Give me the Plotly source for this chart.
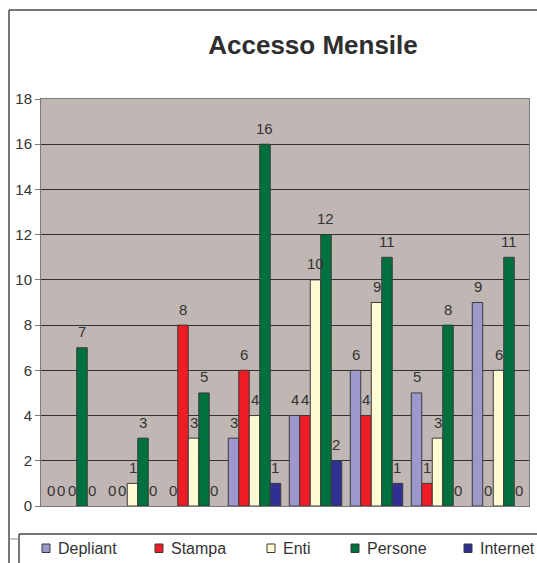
import plotly.graph_objects as go

# Monthly access counts per channel
mesi = [1, 2, 3, 4, 5, 6, 7, 8]
serie = ["Depliant", "Stampa", "Enti", "Persone", "Internet"]
depliant = [0, 0, 0, 3, 4, 6, 5, 9]
stampa = [0, 0, 8, 6, 4, 4, 1, 0]
enti = [0, 1, 3, 4, 10, 9, 3, 6]
persone = [7, 3, 5, 16, 12, 11, 8, 11]
internet = [0, 0, 0, 1, 2, 1, 0, 0]
y_ticks = [0, 2, 4, 6, 8, 10, 12, 14, 16, 18]

valori = [depliant, stampa, enti, persone, internet]
colori = ["#9C98CB", "#EE1D25", "#FFFCD4", "#00703F", "#2E3192"]

W, H = 537, 563
ML, MR, MT, MB = 41, 8, 99, 57
PW, PH = W - ML - MR, H - MT - MB
FONT = "Arial, Liberation Sans, sans-serif"
TXT = "#333333"
BARGAP = 0.14
n = len(serie)
bw = (1 - BARGAP) / n


def px(x):
    return (x - ML) / PW


def py(y):
    return (H - MB - y) / PH


fig = go.Figure()
for i, (nome, vals, col) in enumerate(zip(serie, valori, colori)):
    fig.add_trace(go.Bar(
        x=mesi, y=vals, name=nome,
        marker=dict(color=col,
                    line=dict(color="#3A3A3A",
                              width=[1 if v > 0 else 0 for v in vals])),
        showlegend=False,
    ))
    # value labels above each bar
    for m, v in zip(mesi, vals):
        fig.add_annotation(
            x=m + (i - (n - 1) / 2) * bw, y=v, xref="x", yref="y",
            text=str(v), showarrow=False, yshift=16,
            font=dict(family=FONT, size=15, color=TXT),
        )

shapes = []
line_c = "#4A4A4A"
# outer chart frame (top and left edges)
shapes.append(dict(type="line", xref="paper", yref="paper",
                   x0=px(9), x1=px(W + 2), y0=py(10), y1=py(10),
                   line=dict(color=line_c, width=1.5)))
shapes.append(dict(type="line", xref="paper", yref="paper",
                   x0=px(9), x1=px(9), y0=py(10), y1=py(H + 2),
                   line=dict(color=line_c, width=1.5)))
# legend frame
shapes.append(dict(type="line", xref="paper", yref="paper",
                   x0=px(19), x1=px(W + 2), y0=py(534), y1=py(534),
                   line=dict(color=line_c, width=1.5)))
shapes.append(dict(type="line", xref="paper", yref="paper",
                   x0=px(19), x1=px(19), y0=py(534), y1=py(H + 2),
                   line=dict(color=line_c, width=1.5)))
shapes.append(dict(type="line", xref="paper", yref="paper",
                   x0=px(9), x1=px(19), y0=py(539), y1=py(539),
                   line=dict(color="#888888", width=1)))

# legend entries
leg_x = [42, 155, 267, 351, 464]
for nome, col, lx in zip(serie, colori, leg_x):
    shapes.append(dict(type="rect", xref="paper", yref="paper",
                       x0=px(lx), x1=px(lx + 8), y0=py(544), y1=py(552.5),
                       fillcolor=col, line=dict(color="#3A3A3A", width=1)))
    fig.add_annotation(x=px(lx + 14), y=py(548), xref="paper", yref="paper",
                       text=nome, showarrow=False, xanchor="left", yanchor="middle",
                       font=dict(family=FONT, size=16, color=TXT))

fig.update_layout(
    width=W, height=H,
    margin=dict(l=ML, r=MR, t=MT, b=MB),
    paper_bgcolor="white",
    plot_bgcolor="#C0B7B4",
    barmode="group", bargap=BARGAP, bargroupgap=0,
    title=dict(text="<b>Accesso Mensile</b>", x=313 / W, xanchor="center",
               y=1 - 45 / H, yanchor="middle",
               font=dict(family=FONT, size=26, color="#2E2E2E")),
    shapes=shapes,
    xaxis=dict(range=[0.5, 8.5], showticklabels=False, ticks="",
               showgrid=False, zeroline=False, showline=True,
               linecolor="#7A7A7A", linewidth=1, mirror=True, fixedrange=True),
    yaxis=dict(range=[0, 18], tickvals=y_ticks, ticks="outside", ticklen=5,
               tickcolor="#7A7A7A", showgrid=True, gridcolor="#333333",
               gridwidth=1, zeroline=False, showline=True, linecolor="#7A7A7A",
               mirror=True, tickfont=dict(family=FONT, size=15, color=TXT),
               fixedrange=True),
    showlegend=False,
)

fig.write_html("out.html")
